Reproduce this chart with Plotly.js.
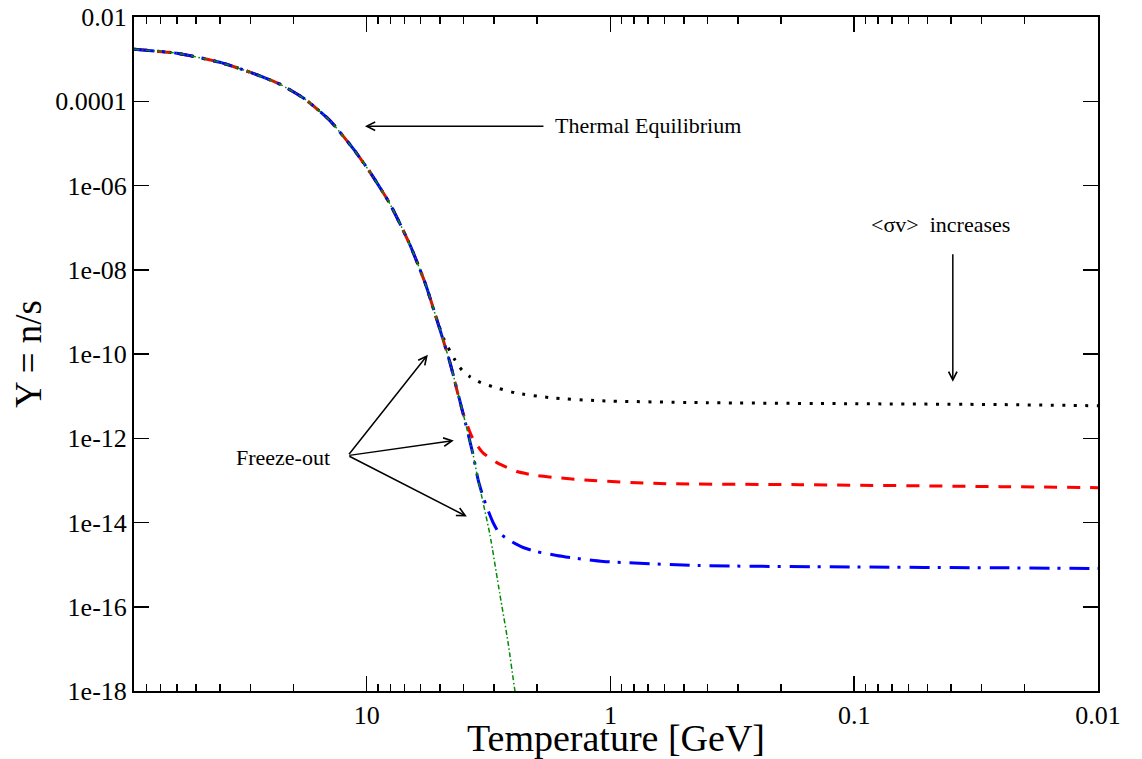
<!DOCTYPE html>
<html>
<head>
<meta charset="utf-8">
<script src="https://cdn.plot.ly/plotly-3.0.1.min.js"></script>
<style>
  html, body { margin: 0; padding: 0; background: #fff; }
  #chart { width: 1142px; height: 759px; }
</style>
</head>
<body>
<div id="chart"></div>
<script>
// Relic abundance Y = n/s versus temperature (GeV)

// Equilibrium abundance
const tempEq = [90, 60, 40, 30.1, 22.7, 17.9, 14.2, 11.4, 9.69, 8.02, 6.64, 5.76, 5.15, 4.55, 4.03, 3.66, 3.49, 3.37, 3.12, 2.84, 2.63, 2.47, 2.42];
const yEq    = [1.71e-3, 1.38e-3, 8.4e-4, 4.89e-4, 2.54e-4, 1.12e-4, 3.56e-5, 7.7e-6, 2.08e-6, 3.64e-7, 3.88e-8, 4.9e-9, 6.5e-10, 6.2e-11, 4.05e-12, 4.1e-13, 1.04e-13, 4.1e-14, 5.1e-15, 1.96e-16, 1.43e-17, 1.1e-18, 5.8e-19];

// Smallest <sigma v> (earliest freeze-out)
const tempA = [90, 60, 40, 30.1, 22.7, 17.9, 14.2, 11.4, 9.69, 8.02, 6.64, 5.76, 5.15, 4.8, 4.35, 4.07, 3.77, 3.40, 3.03, 2.46, 1.77, 1.125, 0.43, 0.1, 0.0252, 0.01];
const yA    = [1.71e-3, 1.38e-3, 8.4e-4, 4.89e-4, 2.54e-4, 1.12e-4, 3.56e-5, 7.7e-6, 2.08e-6, 3.64e-7, 3.88e-8, 4.9e-9, 6.5e-10, 2.17e-10, 7.3e-11, 4.2e-11, 2.9e-11, 2.08e-11, 1.67e-11, 1.2e-11, 9.2e-12, 7.8e-12, 7.0e-12, 6.6e-12, 6.3e-12, 5.9e-12];

// Intermediate <sigma v>
const tempB = [90, 60, 40, 30.1, 22.7, 17.9, 14.2, 11.4, 9.69, 8.02, 6.64, 5.76, 5.15, 4.55, 4.03, 3.70, 3.53, 3.34, 2.92, 2.42, 2.0, 1.66, 1.18, 0.627, 0.167, 0.0252, 0.01];
const yB    = [1.71e-3, 1.38e-3, 8.4e-4, 4.89e-4, 2.54e-4, 1.12e-4, 3.56e-5, 7.7e-6, 2.08e-6, 3.64e-7, 3.88e-8, 4.9e-9, 6.5e-10, 6.2e-11, 4.05e-12, 1.09e-12, 7.0e-13, 4.56e-13, 2.64e-13, 1.62e-13, 1.30e-13, 1.16e-13, 9.9e-14, 8.4e-14, 7.9e-14, 7.1e-14, 6.7e-14];

// Largest <sigma v> (latest freeze-out)
const tempC = [90, 60, 40, 30.1, 22.7, 17.9, 14.2, 11.4, 9.69, 8.02, 6.64, 5.76, 5.15, 4.55, 4.03, 3.66, 3.49, 3.33, 3.21, 3.03, 2.87, 2.58, 2.28, 2.02, 1.66, 1.37, 1.07, 0.43, 0.104, 0.0252, 0.01];
const yC    = [1.71e-3, 1.38e-3, 8.4e-4, 4.89e-4, 2.54e-4, 1.12e-4, 3.56e-5, 7.7e-6, 2.08e-6, 3.64e-7, 3.88e-8, 4.9e-9, 6.5e-10, 6.2e-11, 4.05e-12, 4.1e-13, 1.04e-13, 4.1e-14, 2.27e-14, 1.0e-14, 5.8e-15, 3.7e-15, 2.55e-15, 2.05e-15, 1.65e-15, 1.40e-15, 1.19e-15, 9.5e-16, 8.8e-16, 8.4e-16, 8.1e-16];

// Axis ticks
const xTickVals = [10, 1, 0.1, 0.01];
const xTickText = ['10', '1', '0.1', '0.01'];
const xMinorVals = [90, 80, 70, 60, 50, 40, 30, 20, 9, 8, 7, 6, 5, 4, 3, 2, 0.9, 0.8, 0.7, 0.6, 0.5, 0.4, 0.3, 0.2, 0.09, 0.08, 0.07, 0.06, 0.05, 0.04, 0.03, 0.02];
const yTickVals = [1e-2, 1e-4, 1e-6, 1e-8, 1e-10, 1e-12, 1e-14, 1e-16, 1e-18];
const yTickText = ['0.01', '0.0001', '1e-06', '1e-08', '1e-10', '1e-12', '1e-14', '1e-16', '1e-18'];

const FONT = '"Liberation Serif", "Times New Roman", serif';
const lg = Math.log10;

const traces = [
  { x: tempA, y: yA, mode: 'lines', line: { color: '#000000', width: 3, dash: '3px,8.5px', shape: 'spline', smoothing: 0.6 } },
  { x: tempB, y: yB, mode: 'lines', line: { color: '#ff0000', width: 3, dash: '13px,10px', shape: 'spline', smoothing: 0.6 } },
  { x: tempC, y: yC, mode: 'lines', line: { color: '#0000ff', width: 3, dash: '20px,8px,3px,9px', shape: 'spline', smoothing: 0.6 } },
  { x: tempEq, y: yEq, mode: 'lines', line: { color: 'rgb(0,139,0)', width: 1.5, dash: '5px,2.5px,1.5px,2.5px', shape: 'spline', smoothing: 0.6 } }
];

function arrow(xv, yv, ax, ay) {
  return {
    x: lg(xv), y: lg(yv), xref: 'x', yref: 'y',
    text: '', showarrow: true, arrowhead: 5, arrowsize: 1.1, arrowwidth: 1.5,
    arrowcolor: '#000', ax: ax, ay: ay, standoff: 0, startstandoff: 0
  };
}
function label(txt, xv, yv, anchor) {
  return {
    x: lg(xv), y: lg(yv), xref: 'x', yref: 'y', text: txt, showarrow: false,
    xanchor: anchor, yanchor: 'middle', font: { family: FONT, size: 22, color: '#000' }
  };
}

const annotations = [
  label('Thermal Equilibrium', 1.72, 2.7e-5, 'left'),
  arrow(10.16, 2.56e-5, 180, 0),
  label('Freeze-out', 22.0, 3.5e-13, 'center'),
  arrow(5.61, 9.6e-11, -80, 101),
  arrow(4.39, 8.8e-13, -106, 15),
  arrow(3.88, 1.39e-14, -119, -61),
  label('&lt;σv&gt;  increases', 0.0441, 1.16e-7, 'center'),
  arrow(0.0394, 2.19e-11, 0, -129)
];

const axisCommon = {
  type: 'log', showgrid: false, zeroline: false,
  showline: true, linewidth: 2, linecolor: '#000', mirror: 'ticks',
  ticks: 'inside', ticklen: 15, tickwidth: 1.5, tickcolor: '#000',
  tickmode: 'array', automargin: false,
  tickfont: { family: FONT, size: 26, color: '#000' }
};

const layout = {
  width: 1142, height: 759,
  margin: { l: 134, r: 44, t: 17, b: 68 },
  paper_bgcolor: '#fff', plot_bgcolor: '#fff',
  showlegend: false,
  xaxis: Object.assign({}, axisCommon, {
    range: [lg(90), -2],
    tickvals: xTickVals, ticktext: xTickText,
    minor: { tickmode: 'array', tickvals: xMinorVals, ticks: 'inside', ticklen: 7, tickwidth: 1.5, tickcolor: '#000', showgrid: false },
    title: { text: 'Temperature [GeV]', font: { family: FONT, size: 38, color: '#000' }, standoff: 0 }
  }),
  yaxis: Object.assign({}, axisCommon, {
    range: [-18, -2],
    tickvals: yTickVals, ticktext: yTickText,
    title: { text: 'Y = n/s', font: { family: FONT, size: 37, color: '#000' }, standoff: 2 }
  }),
  annotations: annotations
};

Plotly.newPlot('chart', traces, layout, { staticPlot: true, displayModeBar: false });
</script>
</body>
</html>
